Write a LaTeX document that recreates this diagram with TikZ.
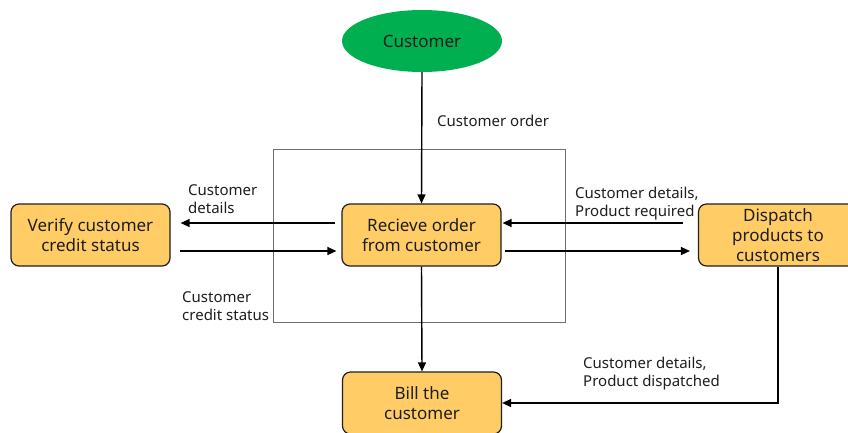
\documentclass[tikz,border=0pt]{standalone}
\usepackage{fontspec}
\setmainfont{Noto Sans}
\usetikzlibrary{arrows.meta,shapes.geometric}
\definecolor{procfill}{HTML}{FFCC66}
\definecolor{extgreen}{HTML}{00B050}
\definecolor{inkdark}{HTML}{1E1E1E}
\begin{document}
\begin{tikzpicture}[x=1pt,y=-1pt,
  process/.style={draw=inkdark,line width=1.2pt,fill=procfill,rounded corners=8pt,
    minimum width=159pt,minimum height=62pt,inner sep=0pt,align=center,
    text=inkdark,font=\fontsize{17}{20}\selectfont},
  entity/.style={ellipse,fill=extgreen,draw=none,minimum width=160pt,minimum height=62pt,
    inner sep=0pt,text=inkdark,font=\fontsize{17}{20}\selectfont},
  flow/.style={line width=1.4pt,draw=black,-{Triangle[length=9pt,width=8pt]}},
  flowlabel/.style={anchor=base west,align=left,inner sep=0pt,text=inkdark,
    font=\fontsize{15}{18}\selectfont}]
\useasboundingbox (0,0) rectangle (848,432);
\clip (0,0) rectangle (848,432);

% system boundary
\draw[draw=gray!85!black,line width=0.9pt] (273,149) rectangle (565,322);

% external entity and processes
\node[entity]  (cust)     at (422,41)  {Customer};
\node[process] (recv)     at (421.5,235) {Recieve order\\from customer};
\node[process] (verify)   at (90.5,235)  {Verify customer\\credit status};
\node[process] (dispatch) at (778,235)   {Dispatch\\products to\\customers};
\node[process] (bill)     at (422,403)   {Bill the\\customer};

% data flows
\draw[flow] (cust.south) -- (recv.north);
\draw[flow] ([shift={(-6pt,12pt)}]recv.west) -- ([shift={(10pt,12pt)}]verify.east);
\draw[flow] ([shift={(9pt,-16pt)}]verify.east) -- ([shift={(-5pt,-16pt)}]recv.west);
\draw[flow] ([shift={(-15pt,12pt)}]dispatch.west) -- ([shift={(1pt,12pt)}]recv.east);
\draw[flow] ([shift={(3pt,-16pt)}]recv.east) -- ([shift={(-8pt,-16pt)}]dispatch.west);
\draw[flow] (recv.south) -- (bill.north);
\draw[flow] (dispatch.south) |- (bill.east);

% flow labels (placed by the baseline of their last line)
\node[flowlabel] (lorder)    at (437,126) {Customer order};
\node[flowlabel] (ldetails)  at (188,213) {Customer\\details};
\node[flowlabel] (lcredit)   at (182,320) {Customer\\credit status};
\node[flowlabel] (lrequired) at (575,216) {Customer details,\\Product required};
\node[flowlabel] (ldispatch) at (583,386) {Customer details,\\Product dispatched};
\end{tikzpicture}
\end{document}
